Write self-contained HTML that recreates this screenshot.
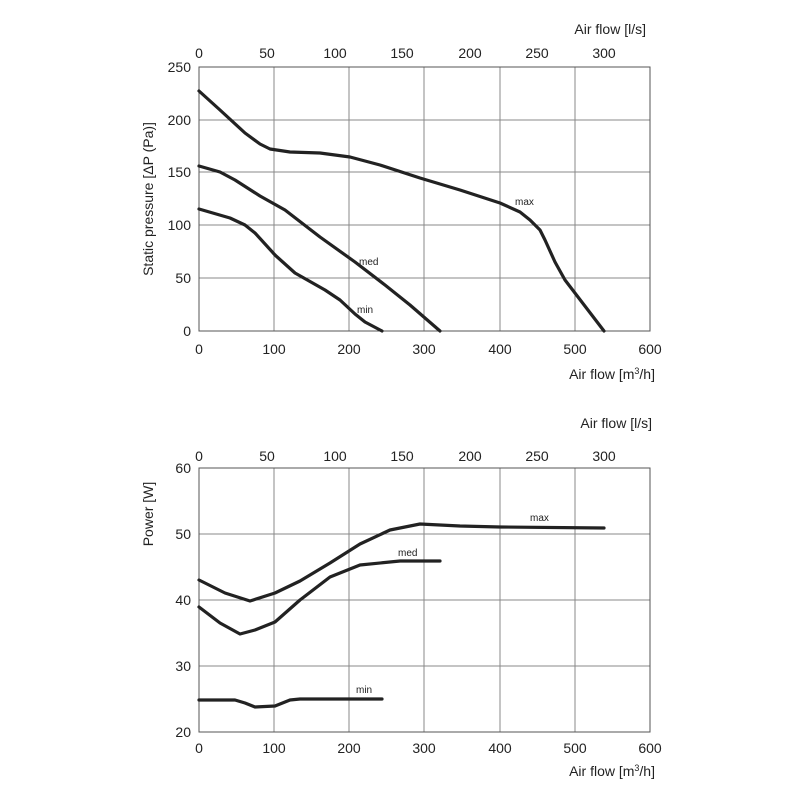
<!DOCTYPE html><html><head><style>body{margin:0;background:#fff}svg{display:block}text{font-family:"Liberation Sans",sans-serif;fill:#222}</style></head><body>
<svg width="800" height="800" viewBox="0 0 800 800">
<g stroke="#888" stroke-width="1">
<line x1="274" y1="67" x2="274" y2="331"/><line x1="349" y1="67" x2="349" y2="331"/><line x1="424" y1="67" x2="424" y2="331"/><line x1="500" y1="67" x2="500" y2="331"/><line x1="575" y1="67" x2="575" y2="331"/>
<line x1="199" y1="120" x2="650" y2="120"/><line x1="199" y1="172" x2="650" y2="172"/><line x1="199" y1="225" x2="650" y2="225"/><line x1="199" y1="278" x2="650" y2="278"/>
<line x1="274" y1="468" x2="274" y2="732"/><line x1="349" y1="468" x2="349" y2="732"/><line x1="424" y1="468" x2="424" y2="732"/><line x1="500" y1="468" x2="500" y2="732"/><line x1="575" y1="468" x2="575" y2="732"/>
<line x1="199" y1="534" x2="650" y2="534"/><line x1="199" y1="600" x2="650" y2="600"/><line x1="199" y1="666" x2="650" y2="666"/>
</g>
<rect x="199" y="67" width="451" height="264" fill="none" stroke="#555" stroke-width="1"/>
<rect x="199" y="468" width="451" height="264" fill="none" stroke="#555" stroke-width="1"/>
<g fill="none" stroke="#222" stroke-width="3.2" stroke-linejoin="round" stroke-linecap="round">
<polyline points="199,91 220,110 245,133 260,144 270,149 290,152 320,153 350,157 380,165 420,178 460,190 500,203 520,212 530,220 540,230 545,240 555,262 565,280 604,331"/>
<polyline points="199,166 220,172 235,180 260,196 285,210 320,237 355,262 385,285 410,305 440,331"/>
<polyline points="199,209 230,218 245,225 255,233 275,255 295,273 325,290 340,300 355,314 365,322 382,331"/>
<polyline points="199,580 225,593 250,601 275,593 300,581 330,563 360,544 390,530 420,524 460,526 500,527 604,528"/>
<polyline points="199,607 220,623 240,634 255,630 275,622 300,600 330,577 360,565 400,561 440,561"/>
<polyline points="199,700 235,700 245,703 255,707 275,706 290,700 300,699 382,699"/>
</g>
<g font-size="10"><text x="515" y="205">max</text><text x="359" y="265">med</text><text x="357" y="313">min</text>
<text x="530" y="521">max</text><text x="398" y="556">med</text><text x="356" y="693">min</text></g>
<g font-size="14" text-anchor="middle">
<text x="199" y="58">0</text><text x="267" y="58">50</text><text x="335" y="58">100</text><text x="402" y="58">150</text><text x="470" y="58">200</text><text x="537" y="58">250</text><text x="604" y="58">300</text>
<text x="199" y="354">0</text><text x="274" y="354">100</text><text x="349" y="354">200</text><text x="424" y="354">300</text><text x="500" y="354">400</text><text x="575" y="354">500</text><text x="650" y="354">600</text>
<text x="199" y="461">0</text><text x="267" y="461">50</text><text x="335" y="461">100</text><text x="402" y="461">150</text><text x="470" y="461">200</text><text x="537" y="461">250</text><text x="604" y="461">300</text>
<text x="199" y="753">0</text><text x="274" y="753">100</text><text x="349" y="753">200</text><text x="424" y="753">300</text><text x="500" y="753">400</text><text x="575" y="753">500</text><text x="650" y="753">600</text>
</g>
<g font-size="14" text-anchor="end">
<text x="191" y="72">250</text><text x="191" y="125">200</text><text x="191" y="177">150</text><text x="191" y="230">100</text><text x="191" y="283">50</text><text x="191" y="336">0</text>
<text x="191" y="473">60</text><text x="191" y="539">50</text><text x="191" y="605">40</text><text x="191" y="671">30</text><text x="191" y="737">20</text>
<text x="646" y="34">Air flow [l/s]</text><text x="652" y="428">Air flow [l/s]</text>
<text x="655" y="379">Air flow [m<tspan font-size="9" dy="-5">3</tspan><tspan dy="5">/h]</tspan></text>
<text x="655" y="776">Air flow [m<tspan font-size="9" dy="-5">3</tspan><tspan dy="5">/h]</tspan></text>
</g>
<text font-size="14" text-anchor="middle" transform="translate(153,199) rotate(-90)">Static pressure [ΔP (Pa)]</text>
<text font-size="14" text-anchor="middle" transform="translate(153,514) rotate(-90)">Power [W]</text>
</svg></body></html>
